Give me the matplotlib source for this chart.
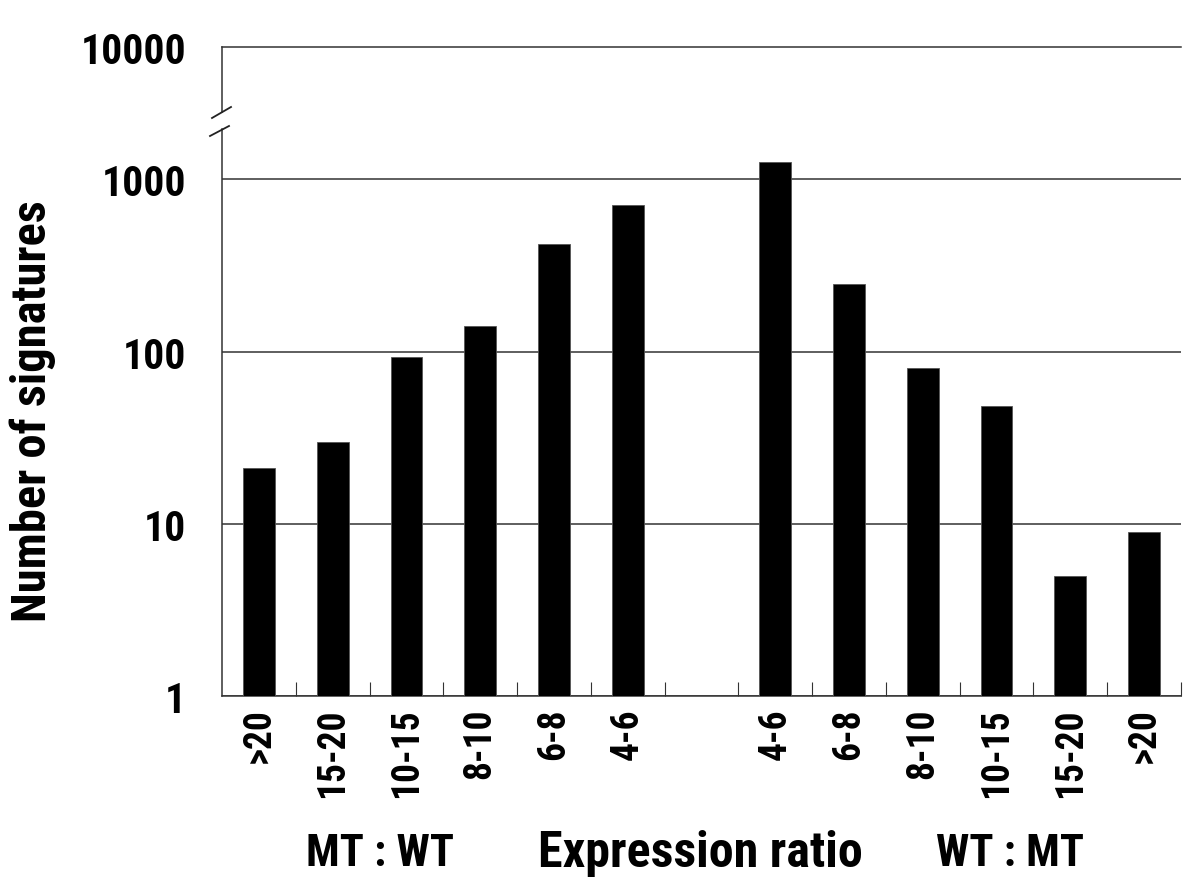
import matplotlib
matplotlib.use("Agg")
import matplotlib.pyplot as plt
from matplotlib.lines import Line2D
import numpy as np

plt.rcParams['font.family'] = ['Roboto Condensed', 'DejaVu Sans']
plt.rcParams['font.weight'] = 'bold'
plt.rcParams['font.stretch'] = 'condensed'

# data
left_labels = ['>20', '15-20', '10-15', '8-10', '6-8', '4-6']
left_counts = [21, 30, 93, 141, 420, 713]
right_labels = ['4-6', '6-8', '8-10', '10-15', '15-20', '>20']
right_counts = [1267, 247, 80, 48, 5, 9]

left_x = np.arange(len(left_labels))
right_x = np.arange(len(right_labels)) + len(left_labels) + 1
n_slots = len(left_labels) + len(right_labels) + 1

W, H = 1200, 895
fig = plt.figure(figsize=(W / 100, H / 100), dpi=100)

def fx(px):
    return px / W

def fy(py):
    return 1 - py / H

x0, x1 = 222, 1181
ax = fig.add_axes([fx(x0), fy(697), fx(x1 - x0), fy(130) - fy(697)])
ax_top = fig.add_axes([fx(x0), fy(113), fx(x1 - x0), fy(48) - fy(113)])

grid_c = '#333333'

ax.bar(left_x, left_counts, width=0.43, color='black', edgecolor='#555555', linewidth=0.6, zorder=3)
ax.bar(right_x, right_counts, width=0.43, color='black', edgecolor='#555555', linewidth=0.6, zorder=3)
ax.set_yscale('log')
ax.set_ylim(1, 10 ** ((697 - 130) / 172.2))
ax.set_xlim(-0.5, n_slots - 0.5)

ax.set_yticks([1, 10, 100, 1000])
ax.set_yticklabels(['1', '10', '100', '1000'])
ax.yaxis.set_minor_locator(matplotlib.ticker.NullLocator())
ax.tick_params(axis='y', length=0, pad=26, labelsize=30)
ax.grid(axis='y', which='major', color=grid_c, linewidth=1.1, zorder=1)

ax.set_xticks(list(left_x) + list(right_x))
ax.set_xticklabels(left_labels + right_labels, rotation=90)
ax.tick_params(axis='x', which='major', length=0, pad=8, labelsize=27)
ax.set_xticks(np.arange(1, n_slots + 1) - 0.5, minor=True)
ax.tick_params(axis='x', which='minor', direction='in', length=10, width=0.8, color=grid_c)

for s in ['top', 'right']:
    ax.spines[s].set_visible(False)
for s in ['left', 'bottom']:
    ax.spines[s].set_color(grid_c)
    ax.spines[s].set_linewidth(1.1)

ax.set_ylabel('Number of signatures', fontsize=35, fontweight='bold')
ax.yaxis.set_label_coords((56 - x0) / (x1 - x0), 0.505)

# upper part of the broken axis
ax_top.set_yscale('log')
ax_top.set_ylim(10 ** 3.6, 10000)
ax_top.set_xlim(ax.get_xlim())
ax_top.set_yticks([10000])
ax_top.set_yticklabels(['10000'])
ax_top.yaxis.set_minor_locator(matplotlib.ticker.NullLocator())
ax_top.tick_params(axis='y', length=0, pad=26, labelsize=30)
ax_top.set_xticks([])
for s in ['right', 'bottom']:
    ax_top.spines[s].set_visible(False)
for s in ['left', 'top']:
    ax_top.spines[s].set_color(grid_c)
    ax_top.spines[s].set_linewidth(1.1)

# break marks
for (xa, ya, xb, yb) in [(212, 119, 231, 108), (210, 137, 229, 127)]:
    fig.add_artist(Line2D([fx(xa), fx(xb)], [fy(ya), fy(yb)], color='#222222', linewidth=1.3))

fig.text(fx(380), fy(854), 'MT : WT', ha='center', va='center', fontsize=32, fontweight='bold')
fig.text(fx(700), fy(854), 'Expression ratio', ha='center', va='center', fontsize=36, fontweight='bold')
fig.text(fx(1010), fy(854), 'WT : MT', ha='center', va='center', fontsize=32, fontweight='bold')

fig.savefig('out.png', dpi=100)
